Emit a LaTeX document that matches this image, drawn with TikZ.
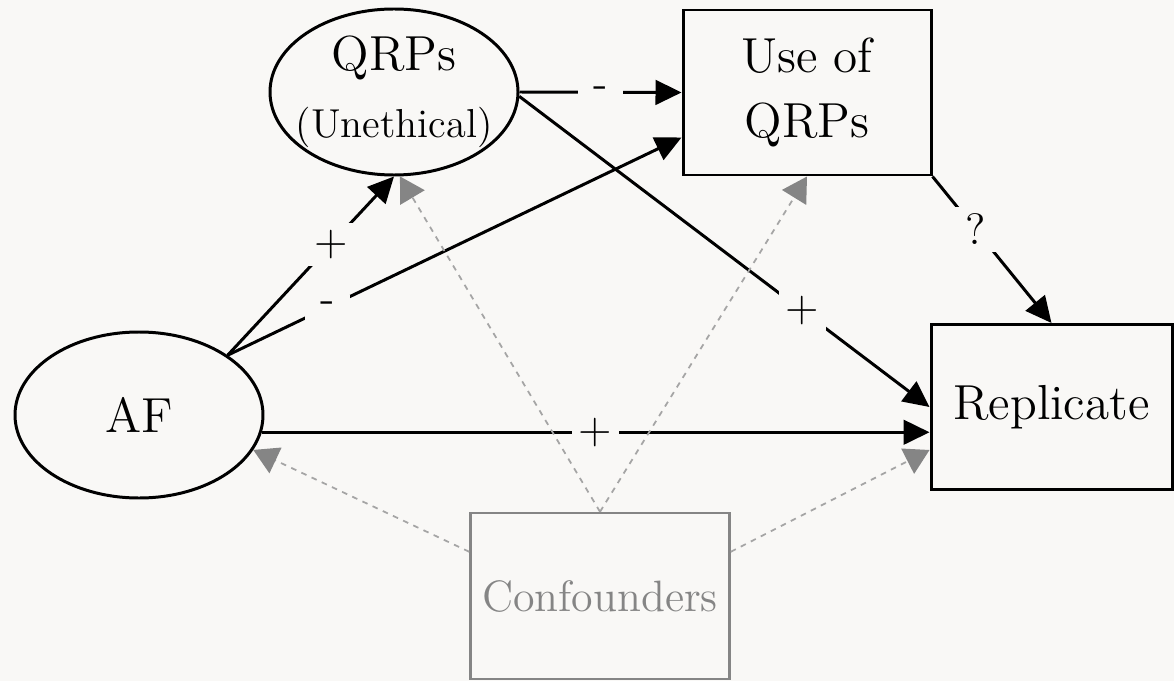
\documentclass[tikz,border=0pt]{standalone}
\usetikzlibrary{arrows.meta,shapes.geometric}
\definecolor{bgcol}{HTML}{F9F8F6}
\definecolor{confgray}{HTML}{858585}
\definecolor{dotgray}{HTML}{A5A5A5}
\begin{document}
\begin{tikzpicture}[x=0.1mm, y=-0.1mm, line width=0.85pt,
  >={Triangle[length=7.4pt,width=7pt]},
  var/.style={draw,ellipse,minimum width=2.48cm,minimum height=1.66cm,inner xsep=-4pt,inner ysep=0pt,align=center,font=\fontsize{14}{17}\selectfont},
  obs/.style={draw,rectangle,minimum height=1.65cm,inner sep=0pt,align=center,font=\fontsize{14}{17}\selectfont},
  sign/.style={fill=bgcol,inner sep=2pt,minimum width=4.5mm,font=\fontsize{12.5}{14}\selectfont},
  conf/.style={dotgray,line width=0.5pt,dash pattern=on 1.6pt off 1.6pt,-{Triangle[length=7pt,width=8pt,color=confgray]}}]
\useasboundingbox (0,0) rectangle (1174,681);
\fill[bgcol] (0,0) rectangle (1174,681);

\node[var] (qrps) at (394,92) {QRPs\\[2pt]{\fontsize{11.5}{14}\selectfont (Unethical)}};
\node[obs,minimum width=2.48cm] (use) at (807,92.5) {Use of\\[1.5pt]QRPs};
\node[var] (af) at (139,415) {AF};
\node[obs,minimum width=2.41cm] (rep) at (1051.5,407) {Replicate};
\node[draw=confgray,text=confgray,line width=0.7pt,minimum width=2.48cm,minimum height=1.66cm,font=\fontsize{12.5}{15}\selectfont] (cf) at (600,596) {Confounders};

\draw[->] (af.34) -- (qrps.south) node[sign,pos=0.62]{+};
\draw[->] (af.34) -- ([yshift=-4.5mm]use.west) node[sign,pos=0.22]{-};
\draw[->] (qrps.east) -- (use.west) node[sign,midway]{-};
\draw[->] (qrps.-2) -- (rep.west) node[sign,pos=0.69]{+};
\draw[->] (use.south east) -- (rep.north) node[sign,pos=0.36]{?};
\draw[->] (af.-8) -- (af.-8 -| rep.west) node[sign,midway]{+};

\draw[conf] (cf.north) -- (qrps.-86);
\draw[conf] (cf.north) -- (use.south);
\draw[conf] ([yshift=-4mm]cf.north west) -- (af.-17);
\draw[conf] ([yshift=-4mm]cf.north east) -- ([yshift=-4.3mm]rep.west);
\end{tikzpicture}
\end{document}
